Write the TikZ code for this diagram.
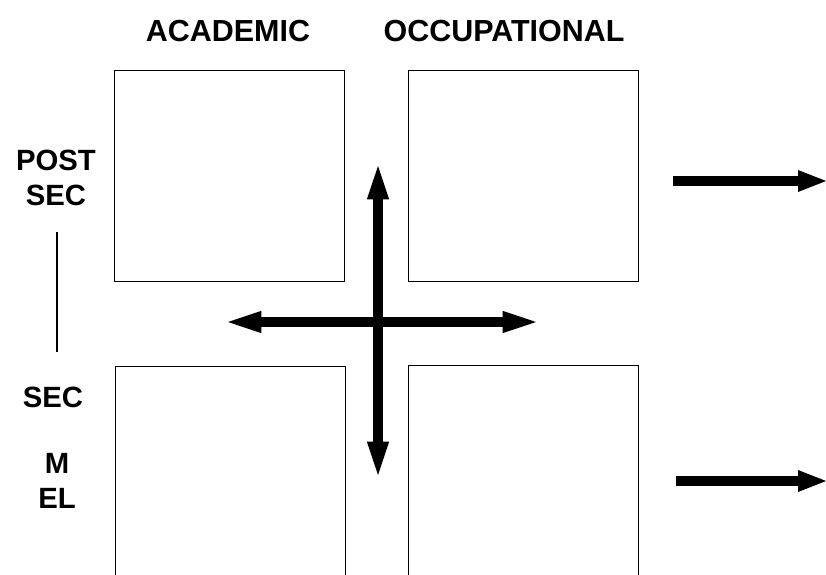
\documentclass[tikz,border=0pt]{standalone}
\usepackage{fontspec}
\setmainfont{Liberation Sans}
\usetikzlibrary{arrows.meta}

\begin{document}
\begin{tikzpicture}[x=0.3mm,y=-0.3mm,
  cell/.style={draw,line width=0.8pt,inner sep=0pt,anchor=north west,minimum width=69mm},
  heading/.style={font=\fontsize{26}{28}\selectfont\bfseries},
  level/.style={font=\fontsize{25}{30}\selectfont\bfseries,align=center},
  flow/.style={line width=2.8mm,{Triangle[length=11.5mm,width=5.6mm]}-{Triangle[length=11.5mm,width=5.6mm]}},
  outflow/.style={line width=2.9mm,-{Triangle[length=9mm,width=5.8mm]}}]
  \useasboundingbox (0,0) rectangle (826,575);

  % the four quadrants
  \node[cell,minimum height=63.3mm] (acpost) at (114,70) {};
  \node[cell,minimum height=63.3mm] (ocpost) at (408,70) {};
  \node[cell,minimum height=72mm] (acsec) at (115,366) {};
  \node[cell,minimum height=72mm] (ocsec) at (408,365) {};

  % column and row labels
  \node[heading] (acad) at (228,31) {ACADEMIC};
  \node[heading] (occ) at (504,31) {OCCUPATIONAL};
  \node[level] (post) at (56,178) {POST\\SEC};
  \node[level] (sec) at (53,397) {SEC};
  \node[level] (mel) at (57,481) {M\\EL};
  \coordinate (bartop) at (57,232);
  \coordinate (barbot) at (57,352);
  \draw[line width=0.9pt] (bartop) -- (barbot);

  % cross of arrows between the quadrants
  \coordinate (up) at (378,161);
  \coordinate (down) at (378,480);
  \coordinate (left) at (223,322);
  \coordinate (right) at (541,322);
  \draw[flow] (up) -- (down);
  \draw[flow] (left) -- (right);

  % arrows leading out
  \coordinate (topstart) at (673,181);
  \coordinate (topend) at (828,181);
  \coordinate (botstart) at (676,481);
  \coordinate (botend) at (828,481);
  \draw[outflow] (topstart) -- (topend);
  \draw[outflow] (botstart) -- (botend);
\end{tikzpicture}
\end{document}
